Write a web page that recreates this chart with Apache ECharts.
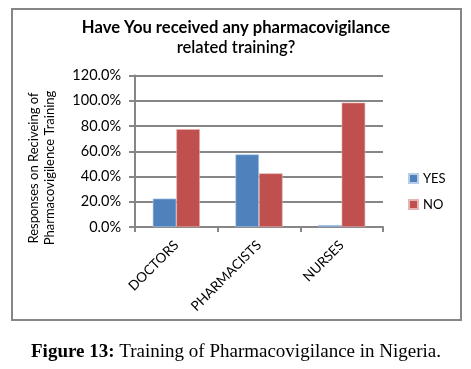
<!DOCTYPE html>
<html><head><meta charset="utf-8">
<script src="https://cdn.jsdelivr.net/npm/echarts@6/dist/echarts.min.js"></script>
<style>html,body{margin:0;padding:0;background:#fff}#c{width:471px;height:369px}</style>
</head><body><div id="c"></div>
<script>
const categories = ['DOCTORS', 'PHARMACISTS', 'NURSES'];
const yesValues = [22.5, 57.5, 1.5];
const noValues = [77.5, 42.5, 98.5];
const seriesNames = ['YES', 'NO'];
const titleLines = ['Have You received any pharmacovigilance', 'related training?'];
const yAxisTitle = ['Responses on Reciveing of', 'Pharmacovigilence Training'];
const caption = ['Figure 13:', ' Training of Pharmacovigilance in Nigeria.'];

const F = 'Lato, "Open Sans", sans-serif';
const chart = echarts.init(document.getElementById('c'), null, {renderer: 'canvas'});
chart.setOption({
  animation: false,
  backgroundColor: '#fff',
  grid: {left: 135, right: 88, top: 75.5, bottom: 142, containLabel: false},
  legend: {
    orient: 'vertical', left: 408, top: 172, padding: 0, itemWidth: 9, itemHeight: 9, itemGap: 13, itemTextGap: 5,
    data: seriesNames, icon: 'rect',
    textStyle: {fontFamily: F, fontSize: 13, color: '#000'}
  },
  xAxis: {
    type: 'category', data: categories,
    axisLine: {lineStyle: {color: '#868686', width: 2}},
    axisTick: {show: true, length: 5, lineStyle: {color: '#868686', width: 2}},
    axisLabel: {rotate: 45, fontFamily: F, fontSize: 13.5, color: '#000', margin: 16, interval: 0}
  },
  yAxis: {
    type: 'value', min: 0, max: 120, interval: 20,
    axisLine: {show: true, lineStyle: {color: '#868686', width: 2}},
    axisTick: {show: true, length: 6, lineStyle: {color: '#868686', width: 2}},
    splitLine: {lineStyle: {color: '#868686', width: 2}},
    axisLabel: {formatter: v => v.toFixed(1) + '%', fontFamily: F, fontSize: 14.5, color: '#000', margin: 14}
  },
  series: [
    {name: seriesNames[0], type: 'bar', data: yesValues, barGap: '0%', barCategoryGap: '43%',
     itemStyle: {color: '#4F81BD', borderColor: '#b9cde6', borderWidth: 0.6}},
    {name: seriesNames[1], type: 'bar', data: noValues,
     itemStyle: {color: '#C0504D', borderColor: '#e6b4b2', borderWidth: 0.6}}
  ],
  graphic: [
    {type: 'rect', shape: {x: 12, y: 9, width: 449, height: 311}, style: {fill: 'none', stroke: '#868686', lineWidth: 2}, z: 100},
    {type: 'text', x: 236, y: 28, style: {text: titleLines[0], font: 'bold 16.6px ' + F, fill: '#000', align: 'center', verticalAlign: 'middle'}},
    {type: 'text', x: 236, y: 48, style: {text: titleLines[1], font: '600 16.6px ' + F, fill: '#000', align: 'center', verticalAlign: 'middle'}},
    {type: 'text', x: 34, y: 168, rotation: Math.PI / 2, style: {text: yAxisTitle[0], font: '13px ' + F, fill: '#000', align: 'center', verticalAlign: 'middle'}},
    {type: 'text', x: 50, y: 168, rotation: Math.PI / 2, style: {text: yAxisTitle[1], font: '13px ' + F, fill: '#000', align: 'center', verticalAlign: 'middle'}},
    {type: 'text', x: 236, y: 352, style: {
      text: '{b|' + caption[0] + '}{n|' + caption[1] + '}', align: 'center', verticalAlign: 'middle',
      rich: {
        b: {fontFamily: '"Liberation Serif", serif', fontWeight: 'bold', fontSize: 19, fill: '#000'},
        n: {fontFamily: '"Liberation Serif", serif', fontSize: 19, fill: '#000'}
      }}}
  ]
});
</script></body></html>
